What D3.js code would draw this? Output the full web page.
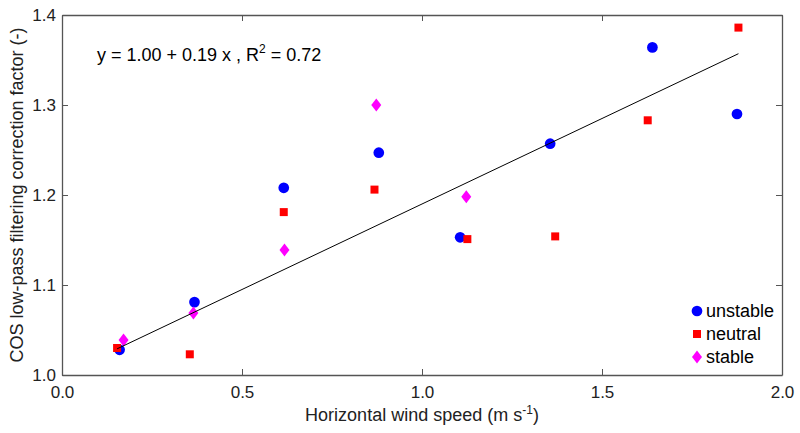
<!DOCTYPE html>
<html>
	<head>
		<meta charset="utf-8">
		<title>COS correction factor</title>
		<style>
			body { margin: 0; background: #fff; }
			svg { display: block; font-family: "Liberation Sans", Arial, sans-serif; }
		</style>
	</head>
	<body>
		<svg></svg>
		<script src="https://d3js.org/d3.v7.min.js"></script>
		<script>
			// data
			var unstableX = [0.160, 0.368, 0.616, 0.880, 1.106, 1.356, 1.640, 1.875]
			var unstableY = [1.028, 1.081, 1.208, 1.247, 1.153, 1.257, 1.364, 1.290]
			var neutralX = [0.153, 0.355, 0.616, 0.868, 1.126, 1.370, 1.627, 1.879]
			var neutralY = [1.030, 1.023, 1.181, 1.206, 1.151, 1.154, 1.283, 1.386]
			var stableX = [0.171, 0.365, 0.618, 0.873, 1.123]
			var stableY = [1.039, 1.069, 1.139, 1.300, 1.198]
			var fitIntercept = 1.00
			var fitSlope = 0.19
			var xTicks = [0.0, 0.5, 1.0, 1.5, 2.0]
			var yTicks = [1.0, 1.1, 1.2, 1.3, 1.4]

			// init vars
			var _width = 800
			var _height = 433
			var _svg = d3.select("svg").attr("width", _width).attr("height", _height)
			var pLeft = 62, pRight = 782, pTop = 15, pBottom = 375

			var x = d3.scaleLinear().domain([0, 2]).range([pLeft, pRight])
			var y = d3.scaleLinear().domain([1.0, 1.4]).range([pBottom, pTop])

			// axes with inward ticks on every side
			function styleAxis(g) {
				g.selectAll(".domain").attr("stroke", "#555").attr("stroke-width", 1.3)
				g.selectAll(".tick line").attr("stroke", "#555")
				g.selectAll(".tick text").attr("fill", "#222").style("font-size", "17px")
			}
			_svg.append("g").attr("transform", "translate(0," + pBottom + ")")
				.call(d3.axisBottom(x).tickValues(xTicks).tickFormat(d3.format(".1f")).tickSizeInner(-6).tickSizeOuter(0).tickPadding(11))
				.call(styleAxis)
			_svg.append("g").attr("transform", "translate(0," + pTop + ")")
				.call(d3.axisTop(x).tickValues(xTicks).tickFormat("").tickSizeInner(-6).tickSizeOuter(0))
				.call(styleAxis)
			_svg.append("g").attr("transform", "translate(" + pLeft + ",0)")
				.call(d3.axisLeft(y).tickValues(yTicks).tickFormat(d3.format(".1f")).tickSizeInner(-6).tickSizeOuter(0).tickPadding(6))
				.call(styleAxis)
			_svg.append("g").attr("transform", "translate(" + pRight + ",0)")
				.call(d3.axisRight(y).tickValues(yTicks).tickFormat("").tickSizeInner(-6).tickSizeOuter(0))
				.call(styleAxis)

			// axis titles
			var xt = _svg.append("text").attr("x", (pLeft + pRight) / 2).attr("y", 421)
				.attr("text-anchor", "middle").style("font-size", "18px").attr("fill", "#222")
			xt.append("tspan").text("Horizontal wind speed (m s")
			xt.append("tspan").attr("dy", -7).style("font-size", "12px").text("-1")
			xt.append("tspan").attr("dy", 7).text(")")

			_svg.append("text").attr("transform", "translate(23," + (pTop + pBottom) / 2 + ") rotate(-90)")
				.attr("text-anchor", "middle").style("font-size", "18px").attr("fill", "#222")
				.text("COS low-pass filtering correction factor (-)")

			// points
			var symCircle = d3.symbol().type(d3.symbolCircle).size(90)
			var symSquare = d3.symbol().type(d3.symbolSquare).size(64)
			function diamond() {
				return "M0,-6.5L5,0L0,6.5L-5,0Z"
			}
			function addSeries(xs, ys, path, color) {
				_svg.append("g").selectAll("path").data(xs).join("path")
					.attr("d", path)
					.attr("fill", color)
					.attr("transform", function(d, i) { return "translate(" + x(d) + "," + y(ys[i]) + ")" })
			}
			addSeries(unstableX, unstableY, symCircle, "#0000ff")
			addSeries(neutralX, neutralY, symSquare, "#ff0000")
			addSeries(stableX, stableY, diamond, "#ff00ff")

			// regression line across the data range
			var allX = unstableX.concat(neutralX, stableX)
			var lineX = d3.extent(allX)
			_svg.append("path")
				.attr("d", d3.line().x(function(d) { return x(d) }).y(function(d) { return y(fitIntercept + fitSlope * d) })(lineX))
				.attr("stroke", "#000").attr("stroke-width", 1).attr("fill", "none")

			// equation
			var eq = _svg.append("text").attr("x", 97).attr("y", 61).style("font-size", "18px").attr("fill", "#000")
			eq.append("tspan").text("y = 1.00 + 0.19 x , R")
			eq.append("tspan").attr("dy", -8).style("font-size", "12px").text("2")
			eq.append("tspan").attr("dy", 8).text(" = 0.72")

			// legend
			var legendItems = [
				{ label: "unstable", path: symCircle, color: "#0000ff" },
				{ label: "neutral", path: symSquare, color: "#ff0000" },
				{ label: "stable", path: diamond, color: "#ff00ff" }
			]
			var lg = _svg.append("g").selectAll("g").data(legendItems).join("g")
				.attr("transform", function(d, i) { return "translate(697," + (311 + i * 23) + ")" })
			lg.append("path").attr("d", function(d) { return d.path() }).attr("fill", function(d) { return d.color })
			lg.append("text").attr("x", 9).attr("dy", "0.35em").style("font-size", "18px").attr("fill", "#000")
				.text(function(d) { return d.label })
		</script>
	</body>
</html>
